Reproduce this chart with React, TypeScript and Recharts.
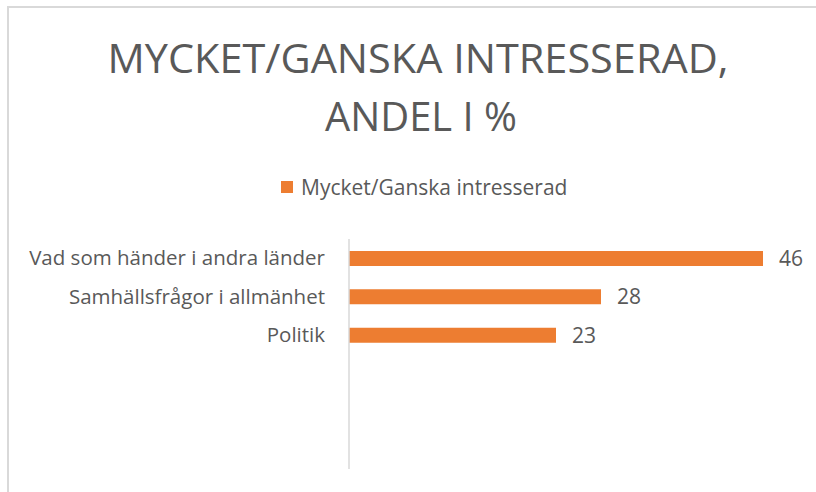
import React from "react";
import { BarChart, Bar, XAxis, YAxis, Legend, LabelList } from "recharts";

// Excel-style chart: 6 category rows, only the first 3 are filled
const categories = [
  "Vad som händer i andra länder",
  "Samhällsfrågor i allmänhet",
  "Politik",
  "",
  "",
  "",
];
const values: (number | null)[] = [46, 28, 23, null, null, null];
const seriesName = "Mycket/Ganska intresserad";
const titleLines = ["MYCKET/GANSKA INTRESSERAD,", "ANDEL I %"];

const ORANGE = "#ED7D31";
const TEXT = "#595959";
const FONT = "'Open Sans', 'Noto Sans', sans-serif";

const chartData = categories.map((name, i) => ({ name, value: values[i] }));

function renderLegend(props: any) {
  const { payload } = props;
  return (
    <div style={{ display: "flex", alignItems: "center", paddingLeft: 281 }}>
      {(payload || []).map((entry: any) => (
        <div key={entry.value} style={{ display: "flex", alignItems: "center" }}>
          <span
            style={{
              display: "inline-block",
              width: 12,
              height: 12,
              background: entry.color,
              marginRight: 8,
            }}
          />
          <span style={{ fontFamily: FONT, fontSize: 21, color: TEXT, lineHeight: "28px" }}>
            {entry.value}
          </span>
        </div>
      ))}
    </div>
  );
}

export default function App() {
  return (
    <div
      style={{
        position: "fixed",
        left: 0,
        top: 0,
        width: 816,
        height: 492,
        background: "#fff",
        overflow: "hidden",
      }}
    >
      <div
        style={{
          position: "absolute",
          left: 7,
          top: 6,
          width: 900,
          height: 600,
          borderLeft: "2px solid #d9d9d9",
          borderTop: "2px solid #d9d9d9",
        }}
      />
      <svg
        width={816}
        height={160}
        style={{ position: "absolute", left: 0, top: 0 }}
      >
        <text
          x={418}
          y={73}
          textAnchor="middle"
          fill={TEXT}
          fontFamily={FONT}
          fontSize={41}
          textLength={621}
          lengthAdjust="spacingAndGlyphs"
        >
          {titleLines[0]}
        </text>
        <text
          x={421}
          y={131}
          textAnchor="middle"
          fill={TEXT}
          fontFamily={FONT}
          fontSize={41}
          textLength={192}
          lengthAdjust="spacingAndGlyphs"
        >
          {titleLines[1]}
        </text>
      </svg>
      <div style={{ position: "absolute", left: 0, top: 0 }}>
        <BarChart
          width={816}
          height={492}
          data={chartData}
          layout="vertical"
          margin={{ top: 239, right: 17, bottom: 23, left: 0 }}
          barSize={15}
        >
          <XAxis type="number" domain={[0, 50]} hide />
          <YAxis
            type="category"
            dataKey="name"
            width={349}
            tickLine={false}
            tickSize={0}
            tickMargin={24}
            axisLine={{ stroke: "#d9d9d9", strokeWidth: 1.5 }}
            tick={{ fill: TEXT, fontSize: 20.5, fontFamily: FONT }}
            interval={0}
          />
          <Legend
            layout="vertical"
            align="center"
            verticalAlign="middle"
            wrapperStyle={{ top: 173, left: 0, width: 816 }}
            content={renderLegend}
          />
          <Bar
            dataKey="value"
            name={seriesName}
            fill={ORANGE}
            isAnimationActive={false}
          >
            <LabelList
              dataKey="value"
              position="right"
              offset={16}
              fill={TEXT}
              fontSize={21}
              fontFamily={FONT}
            />
          </Bar>
        </BarChart>
      </div>
    </div>
  );
}
